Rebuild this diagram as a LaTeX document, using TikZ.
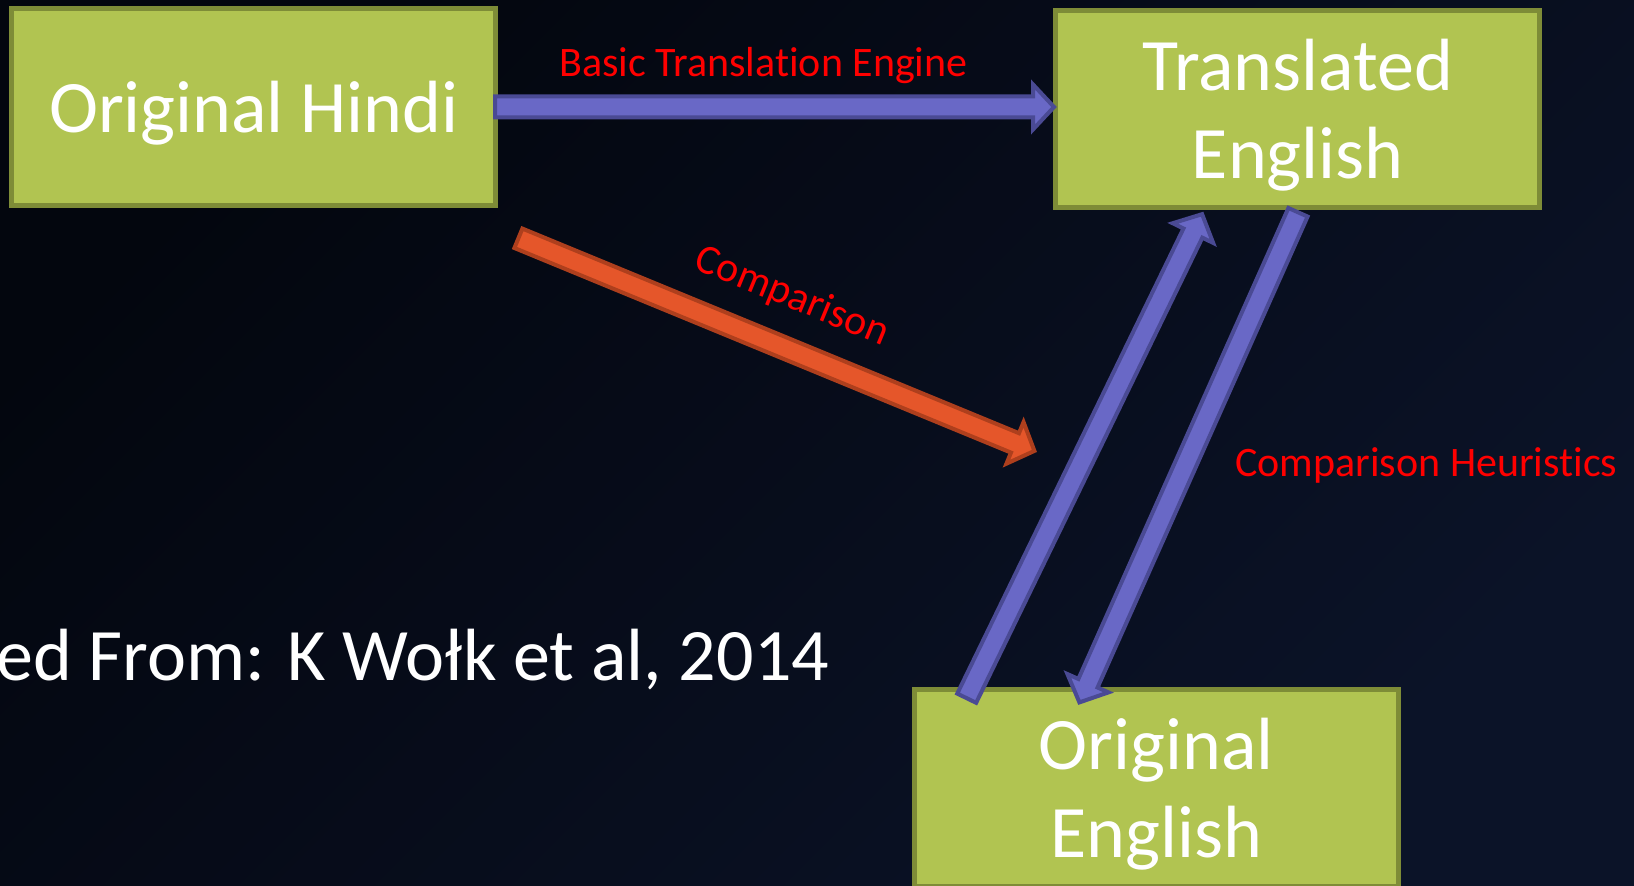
\documentclass[tikz,border=0pt]{standalone}
\usepackage{fontspec}
\setmainfont{Carlito}[Ligatures={NoCommon}]
\usetikzlibrary{calc}
\definecolor{bgA}{HTML}{03060E}
\definecolor{bgB}{HTML}{0B1328}
\definecolor{boxfill}{HTML}{B1C451}
\definecolor{boxline}{HTML}{7E8C37}
\definecolor{arrblue}{HTML}{6968C6}
\definecolor{arrblueline}{HTML}{4A4A94}
\definecolor{arrorange}{HTML}{E5562A}
\definecolor{arrorangeline}{HTML}{AE3F1D}
\definecolor{lbl}{HTML}{FF0000}
\newcommand{\fatarrow}[3]{%
  \coordinate (fah) at ($(#3)!10.5pt!(#2)$);
  \draw[#1] ($(#2)!5.25pt!90:(#3)$) -- ($(fah)!5.25pt!90:(#3)$) -- ($(fah)!11.25pt!90:(#3)$) -- (#3)
    -- ($(fah)!11.25pt!-90:(#3)$) -- ($(fah)!5.25pt!-90:(#3)$) -- ($(#2)!5.25pt!-90:(#3)$) -- cycle;
}
\tikzset{
  box/.style={draw=boxline, fill=boxfill, line width=2.5pt, text=white,
    font=\fontsize{37}{44}\selectfont, align=center, inner sep=0pt,
    minimum width=242pt, minimum height=98.5pt, text depth=9.25pt},
  onebox/.style={box, text height=34.75pt},
  twobox/.style={box, text height=78.65pt},
  lbltext/.style={text=lbl, font=\fontsize{21}{25}\selectfont, inner sep=0pt},
  fatblue/.style={fill=arrblue, draw=arrblueline, line width=2pt, line join=miter},
  fatorange/.style={fill=arrorange, draw=arrorangeline, line width=2pt, line join=miter},
}
\begin{document}
\begin{tikzpicture}[x=0.5pt, y=-0.5pt]
\useasboundingbox (0,0) rectangle (1634,886);
\shade[top color=bgA, bottom color=bgB, shading angle=45] (0,0) rectangle (1634,886);

\node[onebox] (hindi) at (253.75,107.5) {Original Hindi};
\node[twobox] (trans) at (1297.8,108.7) {Translated\\English};
\node[twobox] (orig) at (1156.2,788.3) {Original\\English};

\coordinate (h1) at (495,107);
\coordinate (h2) at (1054,107);
\coordinate (o1) at (518.4,238.3);
\coordinate (o2) at (1034.4,450.9);
\coordinate (u1) at (966.7,698.2);
\coordinate (u2) at (1202.1,214.2);
\coordinate (d1) at (1298.0,212.3);
\coordinate (d2) at (1079.4,702.4);

\fatarrow{fatblue}{h1}{h2}
\fatarrow{fatorange}{o1}{o2}
\fatarrow{fatblue}{u1}{u2}
\fatarrow{fatblue}{d1}{d2}

\node[lbltext, anchor=base] (bte) at (763.5,77) {Basic Translation Engine};
\node[lbltext, rotate=-22.4] (cmp) at (792,297) {Comparison};
\node[lbltext, anchor=base west] (ch) at (1235,477) {Comparison Heuristics};
\node[text=white, font=\fontsize{37}{44}\selectfont, anchor=base west, inner sep=0pt] (cite) at (-4,681) {ed From: K Wołk et al, 2014};
\end{tikzpicture}
\end{document}
